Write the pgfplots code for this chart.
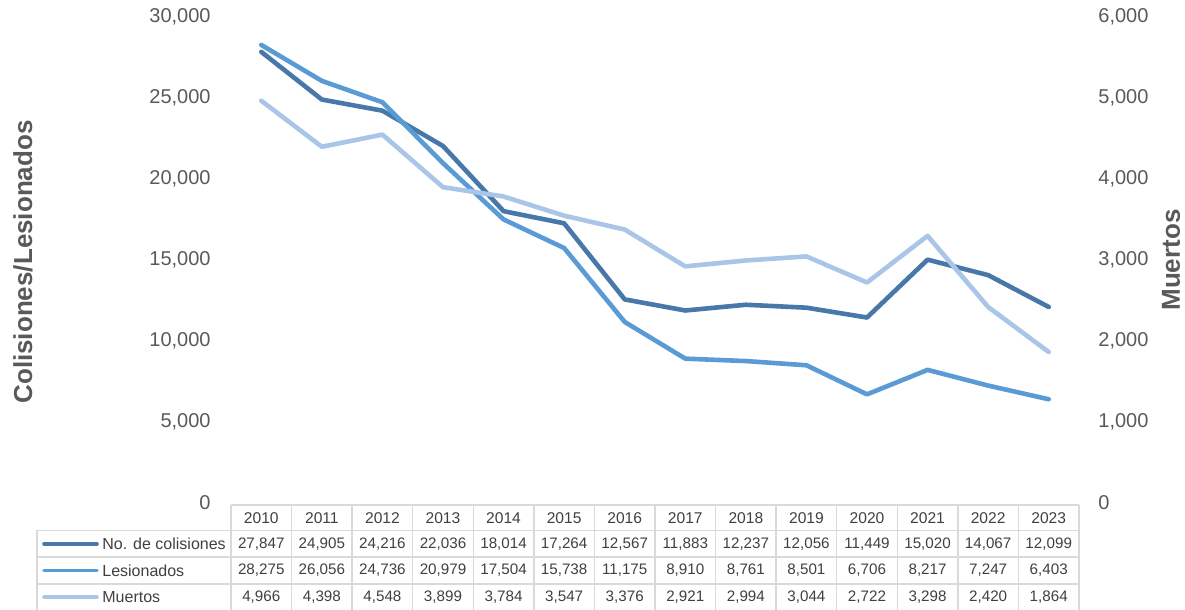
\documentclass[border=0pt]{standalone}
\usepackage{fontspec}
\setmainfont{Liberation Sans}
\usepackage{pgfplots}
\usepackage{pgfplotstable}
\pgfplotsset{compat=1.18}
\pgfkeys{/pgf/number format/.cd,1000 sep={,},assume math mode=true}
\definecolor{colc}{HTML}{4878AA}
\definecolor{cles}{HTML}{5B9BD5}
\definecolor{cmue}{HTML}{A9C5E8}
\definecolor{tickgray}{HTML}{595959}
\definecolor{gridc}{HTML}{D9D9D9}
\definecolor{txt}{HTML}{404040}

\pgfplotstableread{
x col les mue
0 27847 28275 4966
1 24905 26056 4398
2 24216 24736 4548
3 22036 20979 3899
4 18014 17504 3784
5 17264 15738 3547
6 12567 11175 3376
7 11883 8910 2921
8 12237 8761 2994
9 12056 8501 3044
10 11449 6706 2722
11 15020 8217 3298
12 14067 7247 2420
13 12099 6403 1864
}\data

\begin{document}
\begin{tikzpicture}[x=1pt,y=1pt]
\path[use as bounding box] (0,0) rectangle (592.5,305);
\pgfplotsset{common/.style={at={(115.5pt,53.5pt)}, anchor=south west, scale only axis,
  width=424pt, height=243pt, xmin=-0.5, xmax=13.5, xtick=\empty,
  axis line style={draw=none}, major tick length=0pt, scaled y ticks=false,
  tick label style={font=\fontsize{10}{12}\selectfont, text=tickgray},
  clip=false}}
\begin{axis}[common, ymin=0, ymax=30000, ytick={0,5000,...,30000},
  yticklabel style={inner sep=0pt, xshift=-10pt}]
\addplot[colc, line width=2.3pt, line cap=round, line join=round] table[x=x,y=col]{\data};
\addplot[cles, line width=2.3pt, line cap=round, line join=round] table[x=x,y=les]{\data};
\end{axis}
\begin{axis}[common, ymin=0, ymax=6000, ytick={0,1000,...,6000}, yticklabel pos=right,
  yticklabel style={inner sep=0pt, xshift=9.5pt}]
\addplot[cmue, line width=2.3pt, line cap=round, line join=round] table[x=x,y=mue]{\data};
\end{axis}

% axis titles
\node[rotate=90, font=\bfseries\fontsize{13}{15}\selectfont, text=tickgray] at (11.5,174) {Colisiones/Lesionados};
\node[rotate=90, font=\bfseries\fontsize{13}{15}\selectfont, text=tickgray, inner sep=1pt] at (585.5,175) {Muertos};

% data table
\begin{scope}[gridc, line width=0.7pt]
\draw (115.5,52.5) -- (539.5,52.5);
\foreach \yy in {39.75,26.5,13} {\draw (18.5,\yy) -- (539.5,\yy);}
\draw (18.5,0) -- (18.5,39.75);
\foreach \i in {0,...,14} {\draw ({115.5+\i*30.2857},0) -- ({115.5+\i*30.2857},52.5);}
\end{scope}

\foreach \i in {0,...,13} {
  \pgfmathsetmacro\cx{115.5+(\i+0.5)*30.2857}
  \pgfmathtruncatemacro\yr{2010+\i}
  \node[font=\fontsize{7.8}{9}\selectfont, text=txt, inner sep=0pt] at (\cx,46.1) {\yr};
  \pgfplotstablegetelem{\i}{col}\of\data
  \node[font=\fontsize{7.6}{9}\selectfont, text=txt, inner sep=0pt] at (\cx,33.1) {\pgfmathprintnumber{\pgfplotsretval}};
  \pgfplotstablegetelem{\i}{les}\of\data
  \node[font=\fontsize{7.6}{9}\selectfont, text=txt, inner sep=0pt] at (\cx,19.75) {\pgfmathprintnumber{\pgfplotsretval}};
  \pgfplotstablegetelem{\i}{mue}\of\data
  \node[font=\fontsize{7.6}{9}\selectfont, text=txt, inner sep=0pt] at (\cx,6.4) {\pgfmathprintnumber{\pgfplotsretval}};
}
\draw[colc, line width=1.8pt, line cap=round] (22,33.1) -- (48.5,33.1);
\draw[cles, line width=1.8pt, line cap=round] (22,19.75) -- (48.5,19.75);
\draw[cmue, line width=1.8pt, line cap=round] (22,6.4) -- (48.5,6.4);
\node[font=\fontsize{8}{9}\selectfont, text=txt, anchor=west, inner sep=0pt] at (51,33.1) {No. de colisiones};
\node[font=\fontsize{8}{9}\selectfont, text=txt, anchor=west, inner sep=0pt] at (51,19.75) {Lesionados};
\node[font=\fontsize{8}{9}\selectfont, text=txt, anchor=west, inner sep=0pt] at (51,6.4) {Muertos};
\end{tikzpicture}
\end{document}
